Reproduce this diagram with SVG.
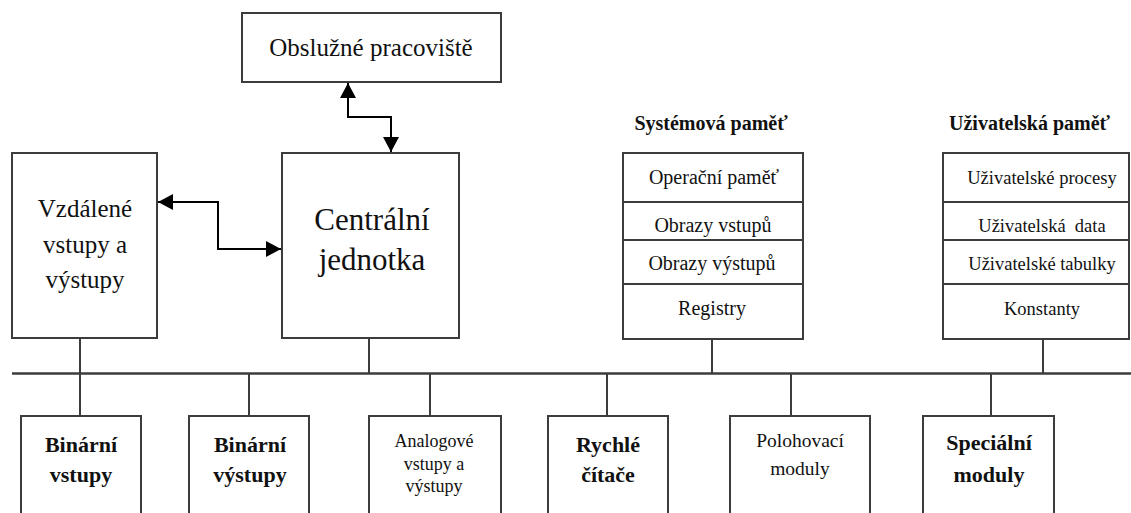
<svg xmlns="http://www.w3.org/2000/svg" width="1131" height="513" viewBox="0 0 1131 513">
  <defs>
    <marker id="head" viewBox="0 0 15 16" refX="15" refY="8" markerWidth="15" markerHeight="16" markerUnits="userSpaceOnUse" orient="auto-start-reverse">
      <path d="M0,0 L15,8 L0,16 z" fill="#000000"/>
    </marker>
  </defs>

  <!-- connectors: system bus, drops and bidirectional links -->
  <g id="connectors" fill="none" stroke="#3c3c3c" stroke-width="2">
    <line x1="12" y1="373.5" x2="1131" y2="373.5" stroke-width="2.5"/>
    <line x1="80" y1="338" x2="80" y2="416"/>
    <line x1="369" y1="338" x2="369" y2="373.5"/>
    <line x1="712" y1="339" x2="712" y2="373.5"/>
    <line x1="1043" y1="339" x2="1043" y2="373.5"/>
    <line x1="249" y1="373.5" x2="249" y2="416"/>
    <line x1="430" y1="373.5" x2="430" y2="416"/>
    <line x1="607" y1="373.5" x2="607" y2="416"/>
    <line x1="791" y1="373.5" x2="791" y2="416"/>
    <line x1="991" y1="373.5" x2="991" y2="416"/>
    <path d="M348,83 V117 H391 V152" stroke="#000" marker-start="url(#head)" marker-end="url(#head)"/>
    <path d="M158,202 H218 V249 H281" stroke="#000" marker-start="url(#head)" marker-end="url(#head)"/>
  </g>

  <g id="obsluzne-pracoviste">
    <rect x="242" y="13" width="259" height="69" fill="#fff" stroke="#3c3c3c" stroke-width="2"/>
    <text x="371" y="56" font-family="Liberation Serif" font-size="25" text-anchor="middle" fill="#111">Obslužné pracoviště</text>
  </g>

  <g id="centralni-jednotka">
    <rect x="282" y="153" width="177" height="185" fill="#fff" stroke="#3c3c3c" stroke-width="2"/>
    <text x="372" y="230" font-family="Liberation Serif" font-size="31" text-anchor="middle" fill="#111">Centrální</text>
    <text x="372" y="270" font-family="Liberation Serif" font-size="31" text-anchor="middle" fill="#111">jednotka</text>
  </g>

  <g id="vzdalene-vstupy">
    <rect x="12" y="153" width="145" height="185" fill="#fff" stroke="#3c3c3c" stroke-width="2"/>
    <text x="85" y="217" font-family="Liberation Serif" font-size="25" text-anchor="middle" fill="#111">Vzdálené</text>
    <text x="85" y="253" font-family="Liberation Serif" font-size="25" text-anchor="middle" fill="#111">vstupy a</text>
    <text x="85" y="288" font-family="Liberation Serif" font-size="25" text-anchor="middle" fill="#111">výstupy</text>
  </g>

  <g id="systemova-pamet">
    <text x="711" y="130" font-family="Liberation Serif" font-size="20" font-weight="bold" text-anchor="middle" fill="#111">Systémová paměť</text>
    <rect x="623" y="153" width="180" height="186" fill="#fff" stroke="#3c3c3c" stroke-width="2"/>
    <path d="M623,202 H803 M623,240 H803 M623,284 H803" stroke="#3c3c3c" stroke-width="2"/>
    <text x="714" y="184" font-family="Liberation Serif" font-size="20" text-anchor="middle" fill="#111">Operační paměť</text>
    <text x="713" y="232" font-family="Liberation Serif" font-size="20" text-anchor="middle" fill="#111">Obrazy vstupů</text>
    <text x="712" y="270" font-family="Liberation Serif" font-size="20" text-anchor="middle" fill="#111">Obrazy výstupů</text>
    <text x="712" y="315" font-family="Liberation Serif" font-size="20" text-anchor="middle" fill="#111">Registry</text>
  </g>

  <g id="uzivatelska-pamet">
    <text x="949" y="130" font-family="Liberation Serif" font-size="20" font-weight="bold" fill="#111">Uživatelská paměť</text>
    <rect x="943" y="153" width="186" height="186" fill="#fff" stroke="#3c3c3c" stroke-width="2"/>
    <path d="M943,202 H1129 M943,240 H1129 M943,284 H1129" stroke="#3c3c3c" stroke-width="2"/>
    <text x="1042" y="184" font-family="Liberation Serif" font-size="18.5" text-anchor="middle" fill="#111">Uživatelské procesy</text>
    <text x="1042" y="232" font-family="Liberation Serif" font-size="18.5" text-anchor="middle" fill="#111">Uživatelská&#160; data</text>
    <text x="1042" y="270" font-family="Liberation Serif" font-size="18.5" text-anchor="middle" fill="#111">Uživatelské tabulky</text>
    <text x="1042" y="315" font-family="Liberation Serif" font-size="18.5" text-anchor="middle" fill="#111">Konstanty</text>
  </g>

  <g id="binarni-vstupy">
    <rect x="21" y="416" width="120" height="120" fill="#fff" stroke="#3c3c3c" stroke-width="2"/>
    <text x="81" y="452" font-family="Liberation Serif" font-size="22" font-weight="bold" text-anchor="middle" fill="#111">Binární</text>
    <text x="81" y="482" font-family="Liberation Serif" font-size="22" font-weight="bold" text-anchor="middle" fill="#111">vstupy</text>
  </g>

  <g id="binarni-vystupy">
    <rect x="189" y="416" width="120" height="120" fill="#fff" stroke="#3c3c3c" stroke-width="2"/>
    <text x="250" y="452" font-family="Liberation Serif" font-size="22" font-weight="bold" text-anchor="middle" fill="#111">Binární</text>
    <text x="250" y="482" font-family="Liberation Serif" font-size="22" font-weight="bold" text-anchor="middle" fill="#111">výstupy</text>
  </g>

  <g id="analogove-vstupy">
    <rect x="369" y="416" width="132" height="120" fill="#fff" stroke="#3c3c3c" stroke-width="2"/>
    <text x="434" y="447" font-family="Liberation Serif" font-size="18" text-anchor="middle" fill="#111">Analogové</text>
    <text x="434" y="470" font-family="Liberation Serif" font-size="18" text-anchor="middle" fill="#111">vstupy a</text>
    <text x="434" y="492" font-family="Liberation Serif" font-size="18" text-anchor="middle" fill="#111">výstupy</text>
  </g>

  <g id="rychle-citace">
    <rect x="548" y="416" width="120" height="120" fill="#fff" stroke="#3c3c3c" stroke-width="2"/>
    <text x="608" y="452" font-family="Liberation Serif" font-size="22" font-weight="bold" text-anchor="middle" fill="#111">Rychlé</text>
    <text x="608" y="482" font-family="Liberation Serif" font-size="22" font-weight="bold" text-anchor="middle" fill="#111">čítače</text>
  </g>

  <g id="polohovaci-moduly">
    <rect x="730" y="416" width="140" height="120" fill="#fff" stroke="#3c3c3c" stroke-width="2"/>
    <text x="800" y="447" font-family="Liberation Serif" font-size="19.5" text-anchor="middle" fill="#111">Polohovací</text>
    <text x="800" y="475" font-family="Liberation Serif" font-size="19.5" text-anchor="middle" fill="#111">moduly</text>
  </g>

  <g id="specialni-moduly">
    <rect x="923" y="416" width="131" height="120" fill="#fff" stroke="#3c3c3c" stroke-width="2"/>
    <text x="989" y="450" font-family="Liberation Serif" font-size="22" font-weight="bold" text-anchor="middle" fill="#111">Speciální</text>
    <text x="989" y="482" font-family="Liberation Serif" font-size="22" font-weight="bold" text-anchor="middle" fill="#111">moduly</text>
  </g>
</svg>
